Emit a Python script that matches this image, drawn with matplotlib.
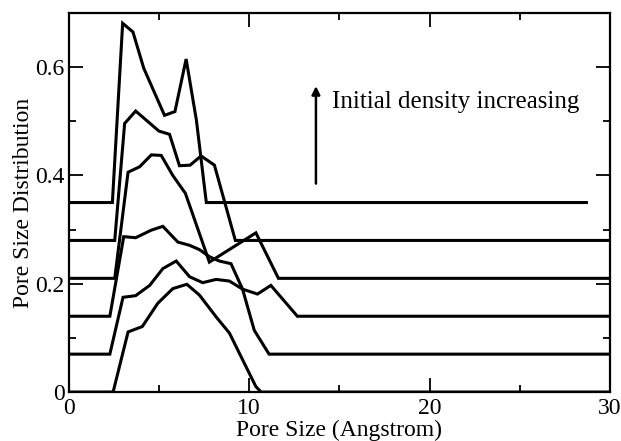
import matplotlib
matplotlib.use("Agg")
import matplotlib.pyplot as plt
from matplotlib.ticker import MultipleLocator, FuncFormatter

plt.rcParams['font.family'] = ['Liberation Serif', 'DejaVu Serif']

# Pore size distributions, each shifted vertically (offset included in values)
x1 = [0, 2.41, 2.98, 3.55, 4.15, 5.30, 5.88, 6.50, 7.07, 7.62, 28.7]
y1 = [0.35, 0.35, 0.681, 0.665, 0.598, 0.511, 0.518, 0.615, 0.502, 0.35, 0.35]

x2 = [0, 2.54, 3.09, 3.70, 4.99, 5.58, 6.13, 6.72, 7.33, 8.07, 9.23, 30]
y2 = [0.28, 0.28, 0.496, 0.519, 0.482, 0.476, 0.418, 0.419, 0.436, 0.419, 0.28, 0.28]

x3 = [0, 2.54, 3.28, 3.92, 4.57, 5.12, 5.76, 6.46, 7.79, 10.37, 11.62, 30]
y3 = [0.21, 0.21, 0.406, 0.416, 0.438, 0.437, 0.400, 0.367, 0.240, 0.294, 0.21, 0.21]

x4 = [0, 2.27, 3.04, 3.70, 4.57, 5.21, 6.04, 6.69, 7.24, 7.79, 8.34, 8.99, 9.63, 10.46, 11.20, 12.67, 30]
y4 = [0.14, 0.14, 0.287, 0.285, 0.299, 0.306, 0.277, 0.271, 0.263, 0.250, 0.242, 0.237, 0.19, 0.181, 0.197, 0.14, 0.14]

x5 = [0, 2.27, 3.00, 3.70, 4.48, 5.21, 5.95, 6.69, 7.42, 8.16, 8.90, 9.63, 10.28, 11.10, 30]
y5 = [0.07, 0.07, 0.175, 0.178, 0.197, 0.228, 0.242, 0.213, 0.202, 0.208, 0.205, 0.19, 0.114, 0.07, 0.07]

x6 = [0, 2.45, 3.28, 4.07, 4.93, 5.76, 6.54, 7.24, 8.16, 8.90, 9.82, 10.37, 10.66, 30]
y6 = [0, 0, 0.111, 0.121, 0.164, 0.191, 0.199, 0.179, 0.139, 0.109, 0.047, 0.010, 0, 0]

series = [(x1, y1), (x2, y2), (x3, y3), (x4, y4), (x5, y5), (x6, y6)]

x_label = "Pore Size (Angstrom)"
y_label = "Pore Size Distribution"
annot_text = "Initial density increasing"

fig = plt.figure(figsize=(6.21, 4.41), dpi=100)
ax = fig.add_axes([0.111, 0.111, 0.871, 0.8595])

for xs, ys in series:
    ax.plot(xs, ys, color='black', lw=2.2, solid_joinstyle='miter')

ax.set_xlim(0, 30)
ax.set_ylim(0, 0.7)

ax.xaxis.set_major_locator(MultipleLocator(10))
ax.xaxis.set_minor_locator(MultipleLocator(5))
ax.yaxis.set_major_locator(MultipleLocator(0.2))
ax.yaxis.set_minor_locator(MultipleLocator(0.1))

def yfmt(v, pos):
    if abs(v) < 1e-9:
        return "0"
    return "%.1f" % v
ax.yaxis.set_major_formatter(FuncFormatter(yfmt))
ax.xaxis.set_major_formatter(FuncFormatter(lambda v, p: "%d" % round(v)))

ax.tick_params(which='both', direction='in', top=True, right=True, labelsize=17, width=1.3)
ax.tick_params(which='major', length=10)
ax.tick_params(axis='x', which='major', pad=4)
ax.tick_params(axis='y', which='major', pad=3)
ax.tick_params(which='minor', length=5)
for s in ax.spines.values():
    s.set_linewidth(1.6)

ax.set_xlabel(x_label, fontsize=17, labelpad=1)
ax.set_ylabel(y_label, fontsize=17, labelpad=1)

ax.annotate("", xy=(13.7, 0.565), xytext=(13.7, 0.385),
            arrowprops=dict(arrowstyle='-|>', color='black', lw=1.8, mutation_scale=12,
                            shrinkA=0, shrinkB=0))
ax.text(14.6, 0.536, annot_text, fontsize=18, va='center', ha='left')

fig.savefig("out.png", dpi=100)
